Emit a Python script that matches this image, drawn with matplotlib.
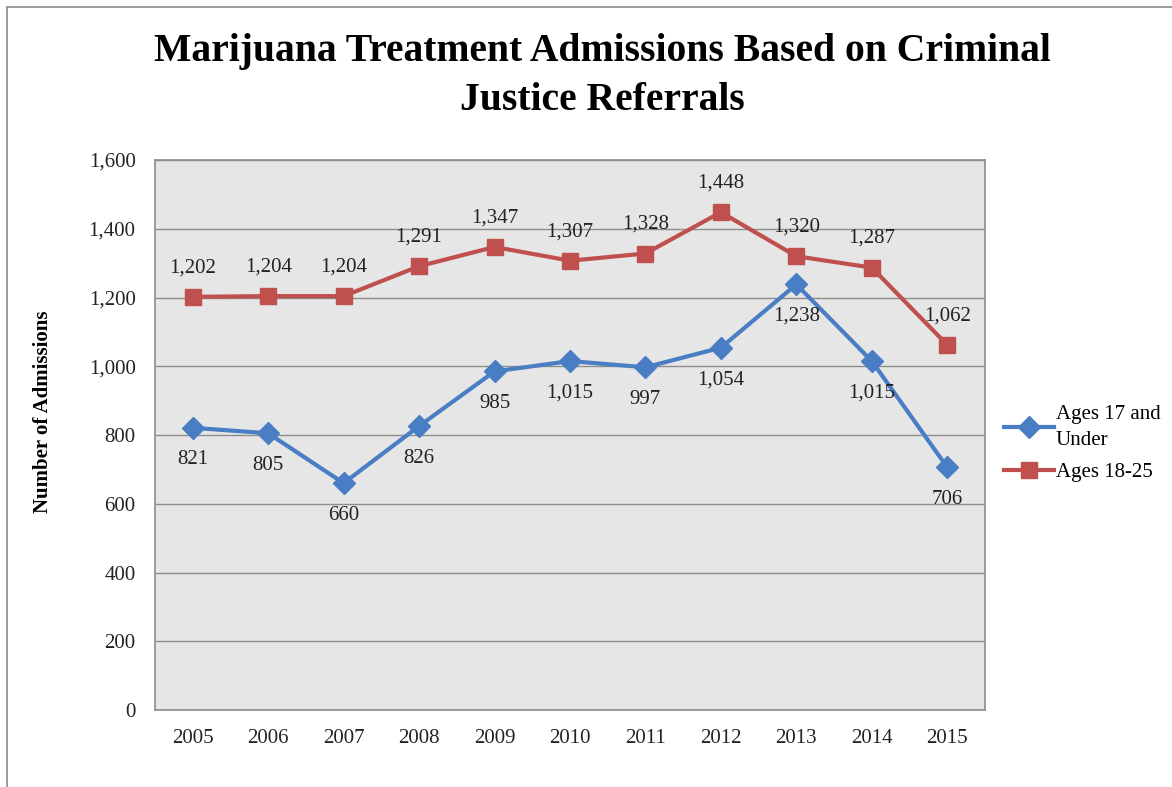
import matplotlib
matplotlib.use('Agg')
import matplotlib.pyplot as plt
from matplotlib.lines import Line2D
from matplotlib.ticker import FuncFormatter

years = ['2005', '2006', '2007', '2008', '2009', '2010', '2011', '2012', '2013', '2014', '2015']
under17 = [821, 805, 660, 826, 985, 1015, 997, 1054, 1238, 1015, 706]
ages18_25 = [1202, 1204, 1204, 1291, 1347, 1307, 1328, 1448, 1320, 1287, 1062]
yticks = [0, 200, 400, 600, 800, 1000, 1200, 1400, 1600]

plt.rcParams['font.family'] = ['Liberation Serif', 'DejaVu Serif']

W, H = 1172, 787
fig = plt.figure(figsize=(W / 100, H / 100), dpi=100)
ax = fig.add_axes([155 / W, 1 - 710 / H, 830 / W, 550 / H])

blue = '#4A7EC4'
red = '#C0504D'
x = list(range(len(years)))

ax.set_facecolor('#E6E6E6')
ax.plot(x, under17, color=blue, lw=3, marker='D', ms=11, mfc=blue, mec=blue,
        label='Ages 17 and\nUnder', zorder=3)
ax.plot(x, ages18_25, color=red, lw=3, marker='s', ms=12, mfc=red, mec=red,
        label='Ages 18-25', zorder=3)

fmt = lambda v: '{:,}'.format(v)
for i, v in enumerate(under17):
    ax.annotate(fmt(v), (i, v), xytext=(0, -23), textcoords='offset points',
                ha='center', va='center', fontsize=15, color='#222222')
for i, v in enumerate(ages18_25):
    ax.annotate(fmt(v), (i, v), xytext=(0, 21), textcoords='offset points',
                ha='center', va='center', fontsize=15, color='#222222')

ax.set_xlim(-0.5, len(years) - 0.5)
ax.set_ylim(0, 1600)
ax.set_xticks(x)
ax.set_xticklabels(years)
ax.set_yticks(yticks)
ax.yaxis.set_major_formatter(FuncFormatter(lambda v, p: '{:,}'.format(int(v))))
ax.tick_params(length=0, labelsize=15, colors='#222222', pad=14)
ax.grid(axis='y', color='#8C8C8C', lw=1)
ax.set_axisbelow(True)
for s in ax.spines.values():
    s.set_color('#8C8C8C')
    s.set_linewidth(1.2)

ax.set_ylabel('Number of Admissions', fontsize=15, fontweight='bold')
ax.yaxis.set_label_coords(-(155 - 53) / 830, (710 - 412) / 550)

fig.text(602 / W, 1 - 76 / H, 'Marijuana Treatment Admissions Based on Criminal\nJustice Referrals',
         ha='center', va='center', fontsize=28.5, fontweight='bold', linespacing=1.45)

leg = ax.legend(loc='center left', bbox_to_anchor=(1.0, 0.485), frameon=False, fontsize=15,
                handlelength=2.4, handletextpad=0.1, labelspacing=0.6)
for t in leg.get_texts():
    t.set_linespacing(1.5)

fig.add_artist(Line2D([7 / W, 7 / W], [0, 1 - 7 / H], color='#8C8C8C', lw=1.2))
fig.add_artist(Line2D([7 / W, 1], [1 - 7 / H, 1 - 7 / H], color='#8C8C8C', lw=1.2))

fig.savefig('out.png', dpi=100)
